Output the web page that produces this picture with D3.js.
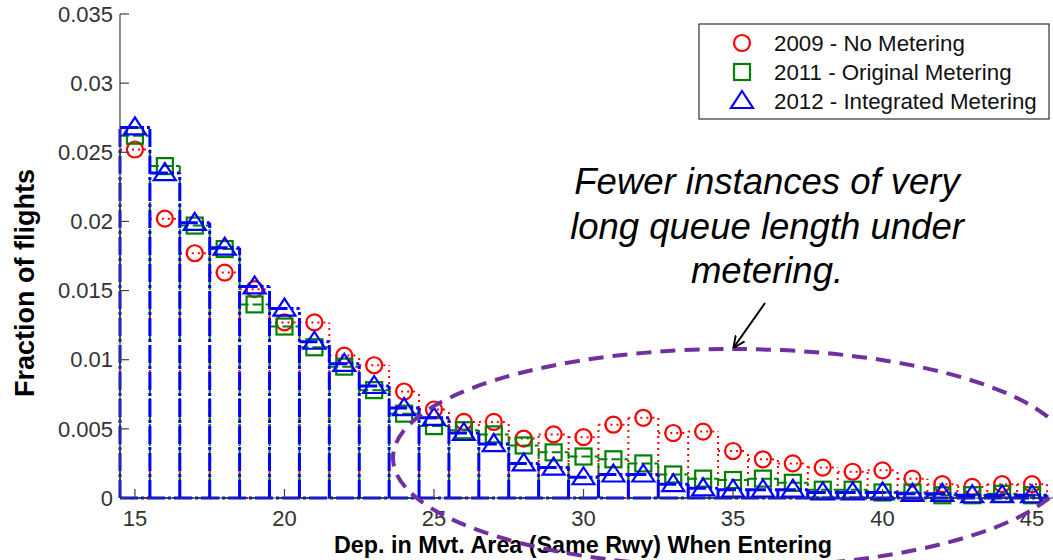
<!DOCTYPE html>
<html><head><meta charset="utf-8">
<script src="https://cdn.jsdelivr.net/npm/d3@7"></script>
<style>body{margin:0;background:#fff}svg{display:block}</style>
</head><body>
<svg id="c" width="1053" height="560"></svg>
<script>
const bins = [15,16,17,18,19,20,21,22,23,24,25,26,27,28,29,30,31,32,33,34,35,36,37,38,39,40,41,42,43,44,45];
const noMetering2009 = [0.0252,0.0202,0.0177,0.0163,0.0151,0.0127,0.0127,0.0103,0.0096,0.0077,0.0064,0.0055,0.0055,0.0043,0.0046,0.0044,0.0053,0.0058,0.0047,0.0048,0.0034,0.0028,0.0025,0.0022,0.0019,0.0020,0.0014,0.0010,0.0008,0.0010,0.0010];
const original2011 = [0.0262,0.0240,0.0197,0.0180,0.0140,0.0124,0.0109,0.0095,0.0078,0.0061,0.0052,0.0049,0.0046,0.0038,0.0033,0.0030,0.0028,0.0025,0.0017,0.0014,0.0013,0.0014,0.0011,0.0006,0.0006,0.0004,0.0004,0.0002,0.0002,0.0003,0.0002];
const integrated2012 = [0.0268,0.0235,0.0199,0.0181,0.0153,0.0137,0.0113,0.0097,0.0081,0.0065,0.0058,0.0047,0.0039,0.0025,0.0022,0.0015,0.0017,0.0017,0.0010,0.0007,0.0006,0.0006,0.0006,0.0004,0.0004,0.0004,0.0003,0.0003,0.0002,0.0002,0.0002];
const seriesNames = ["2009 - No Metering","2011 - Original Metering","2012 - Integrated Metering"];
const xTicks = [15,20,25,30,35,40,45];
const yTicks = [0,0.005,0.01,0.015,0.02,0.025,0.03,0.035];
const yTickLabels = ["0","0.005","0.01","0.015","0.02","0.025","0.03","0.035"];
const xLabel = "Dep. in Mvt. Area (Same Rwy) When Entering";
const yLabel = "Fraction of flights";
const noteLines = ["Fewer instances of very","long queue length under","metering."];

const svg = d3.select("#c");
const x = d3.scaleLinear().domain([14.5,45.7]).range([120,1053]);
const y = d3.scaleLinear().domain([0,0.035]).range([498,14]);

const series = [
  {name:seriesNames[0], vals:noMetering2009, color:"#ff0000", dash:"2,4", w:2, marker:"circle"},
  {name:seriesNames[1], vals:original2011, color:"#008000", dash:"9,4", w:2, marker:"square"},
  {name:seriesNames[2], vals:integrated2012, color:"#0000ff", dash:"18,3,3,3", w:3, marker:"triangle"}
];

function drawMarker(g, type, cx, cy, color){
  if(type==="circle"){
    g.append("circle").attr("cx",cx).attr("cy",cy).attr("r",8)
      .attr("fill","none").attr("stroke",color).attr("stroke-width",2.2);
  } else if(type==="square"){
    g.append("rect").attr("x",cx-8).attr("y",cy-8).attr("width",16).attr("height",16)
      .attr("fill","none").attr("stroke",color).attr("stroke-width",2.2);
  } else {
    g.append("path").attr("d",`M${cx},${cy-10}L${cx+11},${cy+7}L${cx-11},${cy+7}Z`)
      .attr("fill","none").attr("stroke",color).attr("stroke-width",2.2);
  }
}

// bar outline path: each shared edge drawn once
function barPath(vals){
  const p = d3.path();
  const y0 = y(0);
  p.moveTo(x(bins[0]-0.5), y0);
  p.lineTo(x(bins[bins.length-1]+0.5), y0);
  bins.forEach((b,i)=>{
    const prev = i>0 ? vals[i-1] : 0;
    p.moveTo(x(b-0.5), y0);
    p.lineTo(x(b-0.5), y(Math.max(prev, vals[i])));
    p.moveTo(x(b-0.5), y(vals[i]));
    p.lineTo(x(b+0.5), y(vals[i]));
  });
  const last = bins.length-1;
  p.moveTo(x(bins[last]+0.5), y(vals[last]));
  p.lineTo(x(bins[last]+0.5), y0);
  return p.toString();
}

const plot = svg.append("g");
series.forEach(s=>{
  const g = plot.append("g");
  g.append("path").attr("d",barPath(s.vals))
    .attr("fill","none").attr("stroke",s.color).attr("stroke-width",s.w)
    .attr("stroke-dasharray",s.dash);
  bins.forEach((b,i)=>drawMarker(g, s.marker, x(b), y(s.vals[i]), s.color));
});

// axes
const axColor = "#404040";
const axG = svg.append("g");
axG.append("line").attr("x1",120).attr("x2",120).attr("y1",y(0.035)).attr("y2",y(0)).attr("stroke",axColor).attr("stroke-width",1.2);
axG.append("line").attr("x1",120).attr("x2",1053).attr("y1",y(0)).attr("y2",y(0)).attr("stroke",axColor).attr("stroke-width",1.2);
yTicks.forEach((t,i)=>{
  axG.append("line").attr("x1",120).attr("x2",129).attr("y1",y(t)).attr("y2",y(t)).attr("stroke",axColor).attr("stroke-width",1.2);
  axG.append("text").attr("x",113).attr("y",y(t)).attr("dy","0.35em").attr("text-anchor","end")
    .attr("font-family","Liberation Sans, Arial, sans-serif").attr("font-size",22).attr("fill","#333")
    .text(yTickLabels[i]);
});
xTicks.forEach(t=>{
  axG.append("line").attr("x1",x(t)).attr("x2",x(t)).attr("y1",y(0)).attr("y2",y(0)-9).attr("stroke",axColor).attr("stroke-width",1.2);
  axG.append("text").attr("x",x(t)).attr("y",526).attr("text-anchor","middle")
    .attr("font-family","Liberation Sans, Arial, sans-serif").attr("font-size",22).attr("fill","#333")
    .text(t);
});
svg.append("text").attr("x",583).attr("y",553).attr("text-anchor","middle")
  .attr("font-family","Liberation Sans, Arial, sans-serif").attr("font-weight","bold").attr("font-size",24)
  .attr("textLength",498).attr("lengthAdjust","spacingAndGlyphs").text(xLabel);
svg.append("text").attr("transform","translate(34,283) rotate(-90)").attr("text-anchor","middle")
  .attr("font-family","Liberation Sans, Arial, sans-serif").attr("font-weight","bold").attr("font-size",27)
  .text(yLabel);

// legend
const lg = svg.append("g");
lg.append("rect").attr("x",699).attr("y",24).attr("width",350).attr("height",95)
  .attr("fill","#fff").attr("stroke","#333").attr("stroke-width",1.2);
series.forEach((s,i)=>{
  const cy = 43 + i*29;
  drawMarker(lg, s.marker, 742, cy, s.color);
  lg.append("text").attr("x",774).attr("y",cy).attr("dy","0.36em")
    .attr("font-family","Liberation Sans, Arial, sans-serif").attr("font-size",22.3).attr("fill","#111")
    .text(s.name);
});

// annotation
svg.append("ellipse").attr("cx",733).attr("cy",458).attr("rx",340).attr("ry",109)
  .attr("fill","none").attr("stroke","#7030a0").attr("stroke-width",4).attr("stroke-dasharray","15,9");
svg.append("defs").append("marker").attr("id","ah").attr("viewBox","0 0 10 10").attr("refX",9).attr("refY",5)
  .attr("markerWidth",12).attr("markerHeight",12).attr("markerUnits","userSpaceOnUse").attr("orient","auto")
  .append("path").attr("d","M0,0.5L10,5L0,9.5").attr("fill","none").attr("stroke","#000").attr("stroke-width",1.6);
svg.append("line").attr("x1",765).attr("y1",303).attr("x2",734).attr("y2",347)
  .attr("stroke","#000").attr("stroke-width",2).attr("marker-end","url(#ah)");
noteLines.forEach((t,i)=>{
  svg.append("text").attr("x",767).attr("y",194+i*44.5).attr("text-anchor","middle")
    .attr("font-family","Liberation Sans, Arial, sans-serif").attr("font-style","italic").attr("font-size",36.5)
    .attr("fill","#000").text(t);
});
</script>
</body></html>
